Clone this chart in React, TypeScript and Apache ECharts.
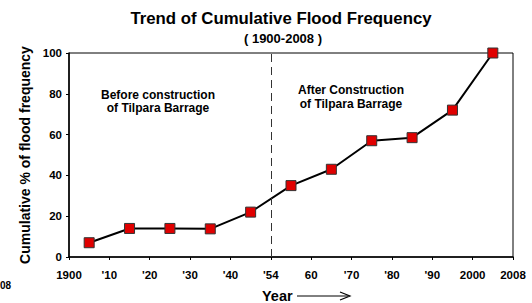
import React, { useEffect, useRef } from "react";
import * as echarts from "echarts";

const xTickLabels = ["1900", "'10", "'20", "'30", "'40", "'54", "60", "'70", "'80", "'90", "2000", "2008"];
const pointPositions = [0.5, 1.5, 2.5, 3.5, 4.5, 5.5, 6.5, 7.5, 8.5, 9.5, 10.5];
const cumulativePercent = [7, 14, 14, 13.8, 22, 35, 43, 57, 58.5, 72, 100];
const constructionTick = 5;

const FONT = "'Liberation Sans', Arial, sans-serif";

export default function App() {
  const ref = useRef<HTMLDivElement>(null);
  useEffect(() => {
    if (!ref.current) return;
    const chart = echarts.init(ref.current, null, { renderer: "svg" });
    const data = pointPositions.map((x, i) => [x, cumulativePercent[i]]);
    chart.setOption({
      animation: false,
      backgroundColor: "#fff",
      textStyle: { fontFamily: FONT },
      title: [
        {
          text: "Trend of Cumulative Flood Frequency",
          left: 281,
          top: 10,
          padding: 0,
          textAlign: "center",
          textStyle: { fontFamily: FONT, fontSize: 16.8, fontWeight: "bold", color: "#000" },
        },
        {
          text: "( 1900-2008 )",
          left: 283,
          top: 32,
          padding: 0,
          textAlign: "center",
          textStyle: { fontFamily: FONT, fontSize: 13, fontWeight: "bold", color: "#000" },
        },
      ],
      grid: {
        left: 69,
        right: 19,
        top: 53,
        bottom: 46,
        show: true,
        borderColor: "#000",
        borderWidth: 1,
        backgroundColor: "transparent",
      },
      xAxis: {
        type: "value",
        min: 0,
        max: 11,
        interval: 1,
        splitLine: { show: false },
        axisLine: { show: true, lineStyle: { color: "#000", width: 1.5 } },
        axisTick: { show: true, length: 3, lineStyle: { color: "#000" } },
        axisLabel: {
          margin: 12,
          color: "#000",
          fontFamily: FONT,
          fontSize: 11.5,
          fontWeight: "bold",
          formatter: (v: number) => xTickLabels[Math.round(v)] ?? "",
        },
      },
      yAxis: {
        type: "value",
        min: 0,
        max: 100,
        interval: 20,
        name: "Cumulative % of flood frequency",
        nameLocation: "middle",
        nameGap: 37,
        nameTextStyle: { fontFamily: FONT, fontSize: 14, fontWeight: "bold", color: "#000" },
        splitLine: { show: false },
        axisLine: { show: true, lineStyle: { color: "#000", width: 1.5 } },
        axisTick: { show: true, length: 3, lineStyle: { color: "#000" } },
        axisLabel: { margin: 7, color: "#000", fontFamily: FONT, fontSize: 11.5, fontWeight: "bold" },
      },
      series: [
        {
          type: "line",
          data,
          symbol: "rect",
          symbolSize: 10,
          lineStyle: { color: "#000", width: 2 },
          itemStyle: { color: "#e00000", borderColor: "#333", borderWidth: 1 },
          markLine: {
            silent: true,
            symbol: "none",
            label: { show: false },
            lineStyle: { color: "#333", type: [8, 5], width: 1 },
            data: [{ xAxis: constructionTick }],
          },
        },
      ],
      graphic: [
        {
          type: "text",
          x: 158,
          y: 88,
          style: {
            text: "Before construction\nof Tilpara Barrage",
            fontFamily: FONT,
            fontSize: 12,
            fontWeight: "bold",
            fill: "#000",
            align: "center",
            lineHeight: 13,
          },
        },
        {
          type: "text",
          x: 351,
          y: 83,
          style: {
            text: "After Construction\nof Tilpara Barrage",
            fontFamily: FONT,
            fontSize: 12,
            fontWeight: "bold",
            fill: "#000",
            align: "center",
            lineHeight: 14,
          },
        },
        {
          type: "text",
          x: 262,
          y: 288,
          style: { text: "Year", fontFamily: FONT, fontSize: 14.5, fontWeight: "bold", fill: "#000" },
        },
        {
          type: "line",
          shape: { x1: 297, y1: 296, x2: 348, y2: 296 },
          style: { stroke: "#000", lineWidth: 1 },
        },
        {
          type: "polyline",
          shape: { points: [[340, 292], [350, 296], [340, 300]] },
          style: { stroke: "#000", lineWidth: 1.2, fill: "none" },
        },
        {
          type: "text",
          x: 0,
          y: 280,
          style: { text: "08", fontFamily: FONT, fontSize: 10, fontWeight: "bold", fill: "#000" },
        },
      ],
    });
    return () => chart.dispose();
  }, []);
  return <div ref={ref} style={{ position: "fixed", left: 0, top: 0, width: 532, height: 303 }} />;
}
